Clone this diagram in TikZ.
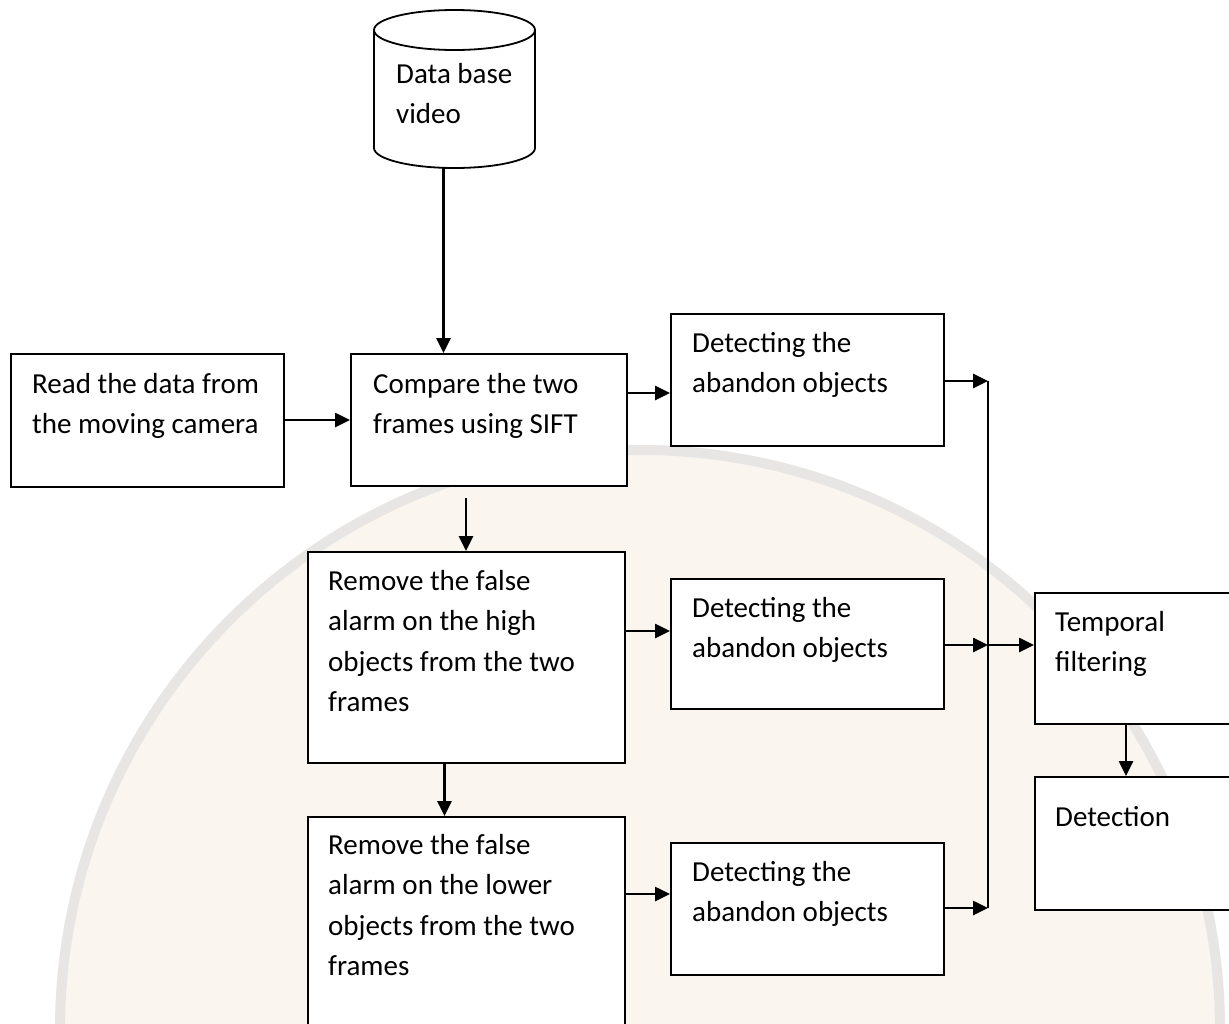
\documentclass[tikz,border=0pt]{standalone}
\usepackage{fontspec}
\setmainfont{Carlito}
\usetikzlibrary{arrows.meta,calc}

\definecolor{globefill}{RGB}{251,245,240}
\definecolor{globerim}{RGB}{232,230,229}

\tikzset{
  box/.style={draw=black, line width=2pt, rectangle, anchor=north west, inner sep=0pt},
  txt/.style={anchor=north west, inner sep=0pt, align=left,
              font=\fontsize{29}{40.5}\selectfont,
              execute at begin node=\rule{0pt}{30pt}},
  arr/.style={line width=2.6pt, -{Triangle[length=15pt,width=14pt]}},
  link/.style={line width=2.6pt}
}

\begin{document}
\begin{tikzpicture}[x=1pt, y=-1pt]
\useasboundingbox (0,0) rectangle (1229,1023);
\clip (0,0) rectangle (1229,1023);

% faint globe in the background
\fill[globefill] (640,1030) circle (585);
\draw[globerim, line width=10pt] (640,1030) circle (580);

% database cylinder (y axis points down, so angle 90 is downwards)
\node[minimum width=161pt, minimum height=158pt, inner sep=0pt] (db) at (454.5,89) {};
\draw[line width=1.8pt, fill=white]
  (374,30) -- (374,148) arc[start angle=180, end angle=0, x radius=80.5, y radius=20]
  -- (535,30) arc[start angle=0, end angle=-180, x radius=80.5, y radius=20] -- cycle;
\draw[line width=1.8pt] (374,30) arc[start angle=180, end angle=0, x radius=80.5, y radius=20];
\node[txt] (dbT) at (396,63) {Data base\\video};

% process boxes
\node[box, fill=white, minimum width=273pt, minimum height=133pt] (read) at (10,353) {};
\node[box, fill=white, minimum width=276pt, minimum height=132pt] (cmp) at (350,353) {};
\node[box, fill=white, minimum width=273pt, minimum height=132pt] (det1) at (670,313) {};
\node[box, fill=white, minimum width=317pt, minimum height=211pt] (rem1) at (307,551) {};
\node[box, fill=white, minimum width=273pt, minimum height=130pt] (det2) at (670,578) {};
\node[box, fill=white, minimum width=317pt, minimum height=240pt] (rem2) at (307,816) {};
\node[box, fill=white, minimum width=273pt, minimum height=132pt] (det3) at (670,842) {};
\node[box, fill=white, minimum width=220pt, minimum height=131pt] (temp) at (1034,592) {};
\node[box, fill=white, minimum width=220pt, minimum height=133pt] (detn) at (1034,776) {};

% box texts
\node[txt] (readT) at (32,373) {Read the data from\\the moving camera};
\node[txt] (cmpT) at (373,373) {Compare the two\\frames using SIFT};
\node[txt] (det1T) at (692,332) {Detecting the\\abandon objects};
\node[txt] (rem1T) at (328,570) {Remove the false\\alarm on the high\\objects from the two\\frames};
\node[txt] (det2T) at (692,597) {Detecting the\\abandon objects};
\node[txt] (rem2T) at (328,834) {Remove the false\\alarm on the lower\\objects from the two\\frames};
\node[txt] (det3T) at (692,861) {Detecting the\\abandon objects};
\node[txt] (tempT) at (1055,611) {Temporal\\filtering};
\node[txt] (detnT) at (1055,796) {Detection};

% collecting bus and its junctions
\coordinate (bus1) at (988,381);
\coordinate (bus2) at (988,645);
\coordinate (bus3) at (988,908);

% start points of the vertical links
\coordinate (dbout) at ([xshift=-11pt]db.south);
\coordinate (cmpout) at ($(cmp.south)+(-23,11)$);
\coordinate (rem1out) at ($(rem1.south)+(-22,0)$);
\coordinate (tempout) at (temp.south -| 1126,0);

% connectors
\draw[arr] (dbout) -- (dbout |- cmp.north);
\draw[arr] (read.east |- 0,420) -- (cmp.west |- 0,420);
\draw[arr] (cmp.east |- 0,393) -- (det1.west |- 0,393);
\draw[arr] (cmpout) -- (cmpout |- rem1.north);
\draw[arr] (rem1out) -- (rem1out |- rem2.north);
\draw[arr] (rem1.east |- 0,631) -- (det2.west |- 0,631);
\draw[arr] (rem2.east |- 0,894) -- (det3.west |- 0,894);
\draw[arr] (det1.east |- bus1) -- (bus1);
\draw[arr] (det2.east |- bus2) -- (bus2);
\draw[arr] (det3.east |- bus3) -- (bus3);
\draw[link] (bus1) -- (bus3);
\draw[arr] (bus2) -- (temp.west |- bus2);
\draw[arr] (tempout) -- (tempout |- detn.north);
\end{tikzpicture}
\end{document}
